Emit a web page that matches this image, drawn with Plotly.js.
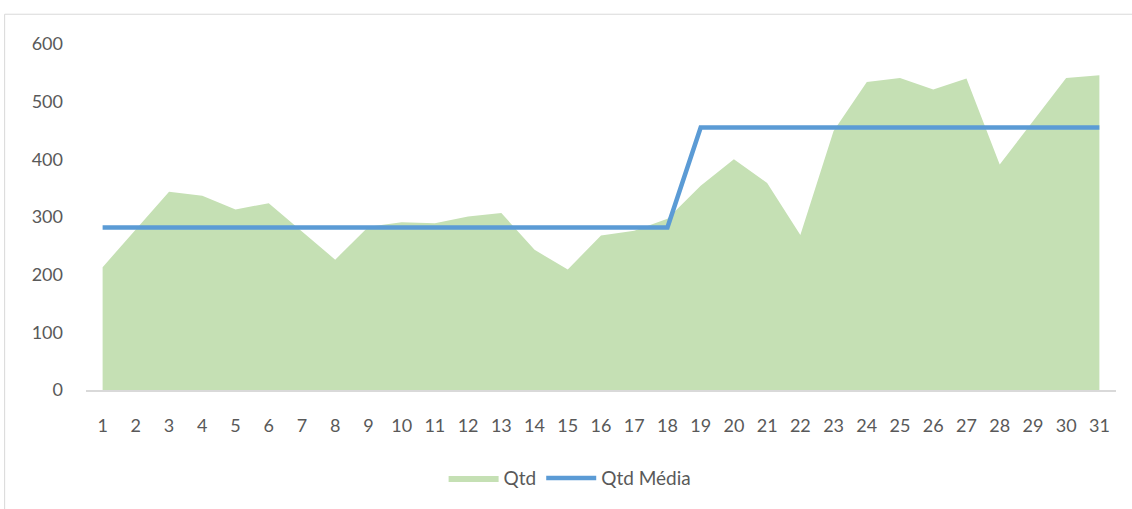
<!DOCTYPE html>
<html>
<head>
<meta charset="utf-8">
<script src="https://cdn.plot.ly/plotly-3.0.1.min.js"></script>
<style>
  html, body { margin: 0; padding: 0; background: #fff; }
  #chart { width: 1132px; height: 509px; }
</style>
</head>
<body>
<div id="chart"></div>
<script>
const days = [1,2,3,4,5,6,7,8,9,10,11,12,13,14,15,16,17,18,19,20,21,22,23,24,25,26,27,28,29,30,31];
const qtd = [213,278,344,337,313,324,275,226,283,291,289,301,307,243,209,268,276,297,
             354,400,359,269,449,534,541,521,540,391,466,541,546];
const qtdMedia = [282,282,282,282,282,282,282,282,282,282,282,282,282,282,282,282,282,282,
                  455,455,455,455,455,455,455,455,455,455,455,455,455];
const yTicks = [0,100,200,300,400,500,600];

const fontFam = 'Lato, "Open Sans", sans-serif';

const traces = [
  {
    x: days, y: qtd, name: 'Qtd', type: 'scatter', mode: 'lines',
    fill: 'tozeroy', fillcolor: '#C5E0B4',
    line: { width: 0, color: '#C5E0B4' }
  },
  {
    x: days, y: qtdMedia, name: 'Qtd Média', type: 'scatter', mode: 'lines',
    line: { width: 4.5, color: '#5B9BD5' }
  }
];

const layout = {
  width: 1132, height: 509,
  margin: { l: 86, r: 16, t: 44, b: 117 },
  paper_bgcolor: '#ffffff', plot_bgcolor: '#ffffff',
  font: { family: fontFam, size: 18, color: '#595959' },
  showlegend: true,
  legend: {
    orientation: 'h', x: 0.47, xanchor: 'center', y: -0.2, yanchor: 'top',
    font: { family: fontFam, size: 19, color: '#595959' },
    itemwidth: 50, traceorder: 'normal'
  },
  xaxis: {
    range: [0.5, 31.5], tickmode: 'array', tickvals: days, ticktext: days.map(String),
    showgrid: false, zeroline: false, showline: true, linecolor: '#d9d9d9', linewidth: 1.5,
    ticks: '', ticklabelstandoff: 19, fixedrange: true
  },
  yaxis: {
    range: [0, 600], tickmode: 'array', tickvals: yTicks, ticktext: yTicks.map(String),
    showgrid: false, zeroline: false, showline: false,
    ticks: '', ticklabelstandoff: 22, fixedrange: true
  },
  shapes: [
    { type: 'rect', xref: 'paper', yref: 'paper',
      x0: -0.079, x1: 1.05, y0: -0.5, y1: 1.086,
      line: { color: '#d9d9d9', width: 1 }, fillcolor: 'rgba(0,0,0,0)', layer: 'below' }
  ]
};

Plotly.newPlot('chart', traces, layout, { displayModeBar: false, staticPlot: true });
</script>
</body>
</html>
